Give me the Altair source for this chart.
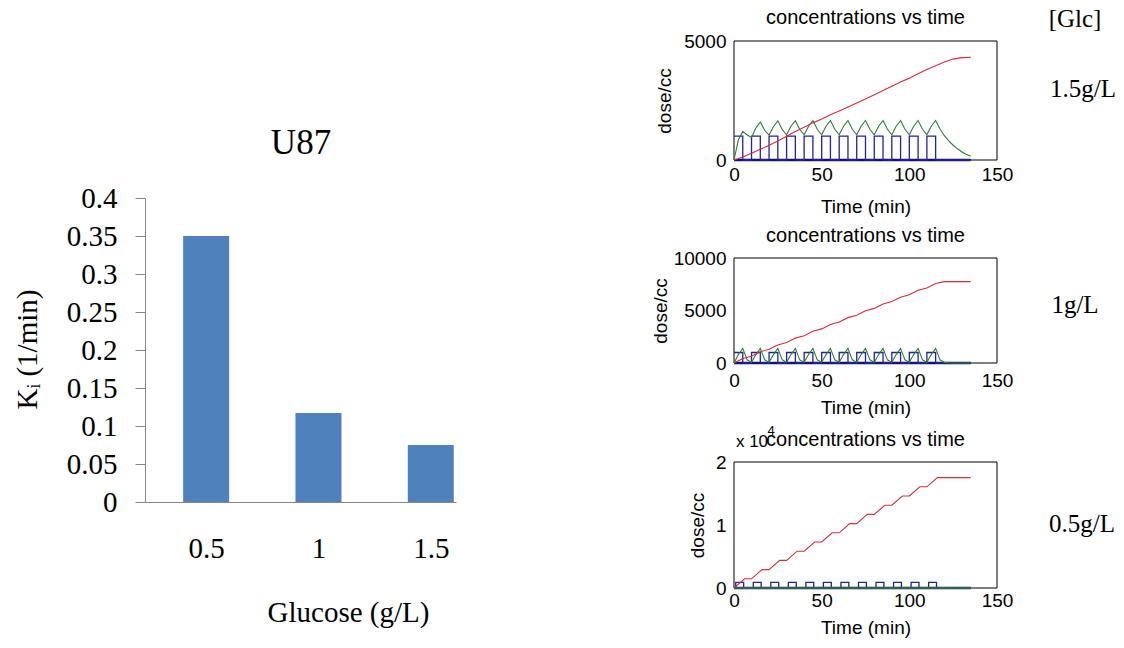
import altair as alt
import pandas as pd

W, H = 1124, 648
SERIF = "Liberation Serif"
SANS = "Liberation Sans"

# ---------------- U87 bar chart ----------------
glucose = [0.5, 1.0, 1.5]
ki = [0.35, 0.117, 0.075]
ki_ticks = [0, 0.05, 0.1, 0.15, 0.2, 0.25, 0.3, 0.35, 0.4]
glucose_ticks = [0.5, 1.0, 1.5]

# ---------------- concentration vs time simulations ----------------
t_5 = [0, 5, 10, 15, 20, 25, 30, 35, 40, 45, 50, 55, 60, 65, 70, 75, 80, 85,
       90, 95, 100, 105, 110, 115, 120, 125, 130, 135]
t_2p5 = [0, 2.5, 5, 7.5, 10, 12.5, 15, 17.5, 20, 22.5, 25, 27.5, 30, 32.5, 35,
         37.5, 40, 42.5, 45, 47.5, 50, 52.5, 55, 57.5, 60, 62.5, 65, 67.5, 70,
         72.5, 75, 77.5, 80, 82.5, 85, 87.5, 90, 92.5, 95, 97.5, 100, 102.5,
         105, 107.5, 110, 112.5, 115, 117.5, 120, 122.5, 125, 127.5, 130,
         132.5, 135]
pulse_t = [0, 5, 10, 15, 20, 25, 30, 35, 40, 45, 50, 55, 60, 65, 70, 75, 80,
           85, 90, 95, 100, 105, 110, 115, 135]
base_t = [0, 135]
base_v = [0, 0]

# 1.5 g/L
red_15 = [0, 130, 280, 450, 620, 800, 1000, 1200, 1380, 1560, 1720, 1900,
          2060, 2230, 2400, 2560, 2740, 2920, 3100, 3280, 3440, 3620, 3800,
          3960, 4120, 4240, 4300, 4310]
green_15 = [0, 850, 1200, 1050, 950,
            1350, 1600, 1250, 1050,
            1400, 1650, 1280, 1060,
            1420, 1650, 1280, 1060,
            1420, 1660, 1290, 1060,
            1420, 1660, 1290, 1060,
            1420, 1660, 1290, 1060,
            1420, 1660, 1290, 1060,
            1420, 1660, 1290, 1060,
            1420, 1660, 1290, 1060,
            1420, 1660, 1290, 1060,
            1420, 1660, 1300, 1020,
            800, 620, 470, 340, 240, 160]
blue_15 = [1000, 0, 1000, 0, 1000, 0, 1000, 0, 1000, 0, 1000, 0, 1000, 0,
           1000, 0, 1000, 0, 1000, 0, 1000, 0, 1000, 0, 0]

# 1 g/L
red_10 = [0, 420, 650, 1070, 1300, 1720, 1950, 2370, 2600, 3020, 3250, 3670,
          3900, 4320, 4550, 4970, 5200, 5620, 5850, 6270, 6500, 6920, 7150,
          7570, 7750, 7750, 7750, 7750]
green_10 = [0, 800, 1400, 300, 60,
            800, 1400, 300, 60,
            800, 1400, 300, 60,
            800, 1400, 300, 60,
            800, 1400, 300, 60,
            800, 1400, 300, 60,
            800, 1400, 300, 60,
            800, 1400, 300, 60,
            800, 1400, 300, 60,
            800, 1400, 300, 60,
            800, 1400, 300, 60,
            800, 1400, 300, 60,
            20, 0, 0, 0, 0, 0]
blue_10 = [1000, 0, 1000, 0, 1000, 0, 1000, 0, 1000, 0, 1000, 0, 1000, 0,
           1000, 0, 1000, 0, 1000, 0, 1000, 0, 1000, 0, 0]

# 0.5 g/L
red_05_t = [0, 6, 10, 16, 20, 26, 30, 36, 40, 46, 50, 56, 60, 66, 70, 76, 80,
            86, 90, 96, 100, 106, 110, 116, 135]
red_05 = [0, 1460, 1460, 2920, 2920, 4380, 4380, 5840, 5840, 7300, 7300, 8760,
          8760, 10220, 10220, 11680, 11680, 13140, 13140, 14600, 14600, 16060,
          16060, 17520, 17520]
blue_05_t = [0, 1, 5.5, 11, 15.5, 21, 25.5, 31, 35.5, 41, 45.5, 51, 55.5, 61,
             65.5, 71, 75.5, 81, 85.5, 91, 95.5, 101, 105.5, 111, 115.5, 135]
blue_05 = [0, 900, 0, 900, 0, 900, 0, 900, 0, 900, 0, 900, 0, 900, 0, 900, 0,
           900, 0, 900, 0, 900, 0, 900, 0, 0]

RED, GREEN, BLUE, NAVY = "#d0303c", "#2f7d32", "#22229a", "#141470"
X_RANGE = [734, 997]


def text_layer(label, x, y, size, font, weight="normal", angle=0, align="center"):
    return alt.Chart(pd.DataFrame({"label": [label]})).mark_text(
        font=font, fontSize=size, fontWeight=weight, angle=angle,
        align=align, baseline="middle", color="black"
    ).encode(x=alt.value(x), y=alt.value(y), text="label:N")


def line_df(t, v):
    return pd.DataFrame({"t": t, "v": v})


def panel(ymax, top, bottom, yvals, ylabel_expr, dose_x, title_y, time_y, pad,
          series):
    xs = alt.Scale(domain=[0, 150], range=X_RANGE, nice=False, zero=False)
    ys = alt.Scale(domain=[0, ymax], range=[bottom, top], nice=False, zero=False)
    xaxis = alt.Axis(
        orient="bottom", offset=bottom - H, values=[0, 50, 100, 150], format="d",
        labelFont=SANS, labelFontSize=19, labelColor="black", labelPadding=pad,
        labelFlush=False, ticks=False, tickSize=0, domain=False, grid=False,
        title="Time (min)", titleFont=SANS, titleFontSize=19,
        titleFontWeight="normal", titleColor="black",
        titleX=(X_RANGE[0] + X_RANGE[1]) / 2, titleY=time_y - bottom,
        titleAlign="center", titleBaseline="middle")
    yaxis = alt.Axis(
        orient="left", offset=-X_RANGE[0], values=yvals, labelExpr=ylabel_expr,
        labelFont=SANS, labelFontSize=19, labelColor="black", labelPadding=8,
        labelFlush=False, ticks=False, tickSize=0, domain=False, grid=False,
        title="dose/cc", titleFont=SANS, titleFontSize=19,
        titleFontWeight="normal", titleColor="black", titleAngle=270,
        titleX=dose_x - X_RANGE[0], titleY=(top + bottom) / 2,
        titleAlign="center", titleBaseline="middle")

    box = alt.Chart(pd.DataFrame({"t": [0], "t2": [150], "v": [0], "v2": [ymax]})).mark_rect(
        filled=False, stroke="black", strokeWidth=1
    ).encode(
        x=alt.X("t:Q", scale=xs, axis=xaxis), x2="t2",
        y=alt.Y("v:Q", scale=ys, axis=yaxis), y2="v2")

    layers = [box]
    for t, v, color, width, interp in series:
        layers.append(
            alt.Chart(line_df(t, v)).mark_line(
                color=color, strokeWidth=width, interpolate=interp
            ).encode(
                x=alt.X("t:Q", scale=xs, axis=xaxis),
                y=alt.Y("v:Q", scale=ys, axis=yaxis)))
    layers.append(text_layer("concentrations vs time",
                             (X_RANGE[0] + X_RANGE[1]) / 2, title_y, 20, SANS))
    return alt.layer(*layers)


# ---- bar chart ----
bar_x = alt.Scale(domain=[0.25, 1.59], range=[145, 456], nice=False, zero=False)
bar_y = alt.Scale(domain=[0, 0.4], range=[502, 198], nice=False, zero=False)
bars = alt.Chart(pd.DataFrame({"glucose": glucose, "ki": ki})).mark_bar(
    color="#4f81bd", size=46
).encode(
    x=alt.X("glucose:Q", scale=bar_x, axis=alt.Axis(
        orient="bottom", offset=502 - H, values=glucose_ticks,
        labelExpr="'' + datum.value", labelFont=SERIF, labelFontSize=29,
        labelColor="black", labelPadding=32, labelFlush=False,
        ticks=False, tickSize=0, domain=True, domainColor="#868686",
        grid=False, title="Glucose (g/L)", titleFont=SERIF, titleFontSize=29,
        titleFontWeight="normal", titleColor="black", titleX=348,
        titleY=612 - 502, titleAlign="center", titleBaseline="middle")),
    y=alt.Y("ki:Q", scale=bar_y, axis=alt.Axis(
        orient="left", offset=-145, values=ki_ticks,
        labelExpr="'' + datum.value", labelFont=SERIF, labelFontSize=29,
        labelColor="black", labelPadding=18, tickSize=10, tickColor="#868686",
        domain=True, domainColor="#868686", grid=False,
        title="K\u1d62 (1/min)", titleFont=SERIF, titleFontSize=29,
        titleFontWeight="normal", titleColor="black", titleAngle=270,
        titleX=27 - 145, titleY=349, titleAlign="center",
        titleBaseline="middle")),
)
bar_panel = alt.layer(bars, text_layer("U87", 301, 143, 35, SERIF))

p15 = panel(5000, 41, 160, [0, 5000], "'' + datum.value", 664, 18, 206, 5, [
    (base_t, base_v, NAVY, 2.5, "linear"),
    (pulse_t, blue_15, BLUE, 1.3, "step-after"),
    (t_2p5, green_15, GREEN, 1.1, "linear"),
    (t_5, red_15, RED, 1.1, "linear"),
])
p10 = panel(10000, 258, 363, [0, 5000, 10000], "'' + datum.value", 660, 236, 407, 8, [
    (base_t, base_v, NAVY, 2.5, "linear"),
    (pulse_t, blue_10, BLUE, 1.3, "step-after"),
    (t_2p5, green_10, GREEN, 1.1, "linear"),
    (t_5, red_10, RED, 1.1, "linear"),
])
p05 = panel(20000, 462, 588, [0, 10000, 20000], "'' + datum.value / 10000", 697, 440, 627, 3, [
    (base_t, base_v, NAVY, 2.5, "linear"),
    (blue_05_t, blue_05, BLUE, 1.3, "step-after"),
    (base_t, base_v, GREEN, 1.3, "linear"),
    (red_05_t, red_05, RED, 1.1, "linear"),
])

labels = alt.layer(
    text_layer("[Glc]", 1075, 19, 25, SERIF),
    text_layer("1.5g/L", 1083, 89, 25, SERIF),
    text_layer("1g/L", 1075, 305, 25, SERIF),
    text_layer("0.5g/L", 1082, 524, 25, SERIF),
    text_layer("x 10", 752, 442, 17, SANS),
    text_layer("4", 771, 431, 13, SANS),
)

chart = alt.layer(bar_panel, p15, p10, p05, labels).resolve_scale(
    x="independent", y="independent"
).properties(
    width=W, height=H, padding=0,
    autosize=alt.AutoSizeParams(type="none"),
    background="white",
).configure_view(stroke=None)

chart.save("out.html", embed_options={"renderer": "svg", "actions": False})
